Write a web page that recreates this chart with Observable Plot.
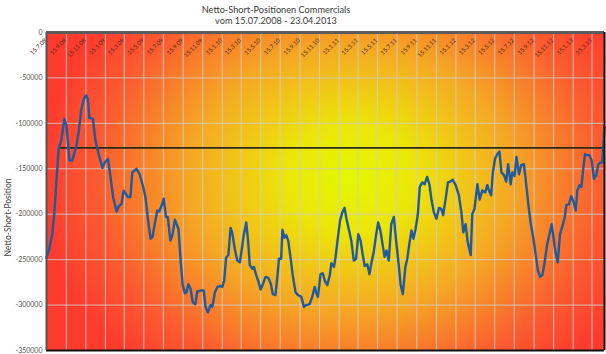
<!DOCTYPE html>
<html><head><meta charset="utf-8">
<script src="https://cdn.jsdelivr.net/npm/d3@7"></script>
<script src="https://cdn.jsdelivr.net/npm/@observablehq/plot@0.6"></script>
<style>
body{margin:0;background:#fff;font-family:Lato,sans-serif;}
#title{width:552px;text-align:center;color:#3a3a3a;font-size:9.2px;line-height:11px;padding-top:4px;height:24px;}
#chart svg{display:block;}
</style></head><body>
<div id="title"><div>Netto-Short-Positionen Commercials</div><div>vom 15.07.2008 - 23.04.2013</div></div>
<div id="chart"></div>
<script>
// days since 15.07.2008 (weekly COT reports)
const days = [0,10,18,25,31,38,46,56,62,72,80,94,101,108,117,124,129,134,145,153,
163,175,182,192,200,208,219,226,234,241,254,262,268,281,291,302,309,316,325,331,
338,346,352,361,366,373,379,387,394,401,412,419,425,432,437,443,450,457,465,471,
481,491,497,504,512,518,526,534,543,549,555,561,568,575,580,588,596,604,611,616,
624,630,635,643,648,655,661,669,676,684,693,701,707,715,722,726,733,737,743,749,
755,762,769,778,786,796,804,811,822,830,838,843,848,856,863,869,877,885,890,898,
903,909,917,924,931,937,944,952,960,967,974,981,988,994,1002,1009,1014,1022,1030,1036,
1043,1051,1056,1062,1069,1077,1085,1092,1100,1106,1113,1121,1127,1134,1140,1146,1153,1160,1166,1174,
1181,1189,1196,1203,1210,1218,1226,1233,1239,1246,1254,1262,1269,1278,1288,1296,1302,1309,1316,1325,
1330,1337,1346,1353,1361,1370,1377,1382,1389,1394,1401,1408,1415,1421,1429,1436,1442,1450,1455,1462,
1468,1476,1483,1491,1496,1505,1512,1520,1528,1535,1542,1549,1556,1564,1571,1578,1585,1590,1597,1604,
1611,1619,1624,1632,1639,1647,1653,1658,1665,1671,1675,1682,1689,1696,1703,1710,1717,1724,1731,1736,
1743];
// net short position (contracts)
const values = [-248000,-236000,-222000,-196000,-163000,-128000,-119000,-95000,-102000,-141000,-141000,-124000,-108000,-86000,-73000,-69000,-73000,-94000,-95000,-119000,
-134000,-149000,-143000,-139000,-159000,-181000,-197000,-191000,-189000,-174000,-181000,-181000,-154000,-150000,-156000,-170000,-181000,-203000,-227000,-225000,
-211000,-196000,-197000,-189000,-183000,-203000,-203000,-229000,-222000,-206000,-216000,-251000,-277000,-287000,-286000,-277000,-282000,-297000,-299000,-285000,
-284000,-284000,-302000,-308000,-300000,-302000,-286000,-280000,-279000,-280000,-273000,-248000,-245000,-215000,-220000,-238000,-251000,-253000,-236000,-223000,
-209000,-231000,-256000,-260000,-258000,-267000,-273000,-283000,-277000,-269000,-270000,-277000,-288000,-289000,-266000,-249000,-249000,-217000,-226000,-223000,
-229000,-247000,-267000,-286000,-289000,-291000,-302000,-300000,-299000,-291000,-280000,-287000,-291000,-266000,-265000,-273000,-278000,-267000,-254000,-258000,
-247000,-229000,-207000,-198000,-193000,-205000,-216000,-229000,-251000,-249000,-222000,-229000,-245000,-257000,-255000,-266000,-255000,-242000,-222000,-209000,
-218000,-236000,-247000,-240000,-251000,-211000,-203000,-229000,-255000,-277000,-288000,-258000,-249000,-231000,-218000,-227000,-216000,-200000,-170000,-165000,
-167000,-159000,-167000,-185000,-198000,-205000,-193000,-194000,-201000,-185000,-165000,-164000,-162000,-168000,-179000,-198000,-220000,-211000,-231000,-245000,
-200000,-194000,-167000,-184000,-174000,-176000,-168000,-174000,-179000,-155000,-139000,-134000,-131000,-154000,-157000,-164000,-145000,-167000,-154000,-158000,
-137000,-156000,-146000,-145000,-159000,-189000,-209000,-225000,-244000,-262000,-269000,-267000,-253000,-233000,-222000,-211000,-229000,-242000,-253000,-222000,
-214000,-203000,-190000,-189000,-180000,-187000,-196000,-174000,-168000,-170000,-155000,-134000,-135000,-135000,-141000,-161000,-157000,-145000,-143000,-143000,
-104000];
const tickLabels = ["15.7.08","15.9.08","15.11.08","15.1.09","15.3.09","15.5.09","15.7.09","15.9.09","15.11.09",
"15.1.10","15.3.10","15.5.10","15.7.10","15.9.10","15.11.10","15.1.11","15.3.11","15.5.11","15.7.11","15.9.11","15.11.11",
"15.1.12","15.3.12","15.5.12","15.7.12","15.9.12","15.11.12","15.1.13","15.3.13"];
const yTicks = [0,-50000,-100000,-150000,-200000,-250000,-300000,-350000];
const levelValue = -127000;
const levelStartDay = 38;
const startDate = new Date(Date.UTC(2008,6,15));
const endDate = new Date(Date.UTC(2013,3,23));

const dayMs = 864e5;
const data = days.map((d,i)=>({date:new Date(+startDate + d*dayMs), value:values[i]}));
const parse = d3.utcParse("%d.%m.%y");
const ticks = tickLabels.map(s=>({date:parse(s), label:s}));

const chart = Plot.plot({
  width:606, height:326, marginLeft:46, marginRight:2, marginTop:4, marginBottom:4,
  style:{fontFamily:"Lato, sans-serif", fontSize:"7px", color:"#444", background:"transparent", overflow:"visible"},
  x:{type:"utc", domain:[startDate,endDate], axis:null},
  y:{domain:[-350000,0], axis:null},
  marks:[
    Plot.frame({fill:"url(#bg)", stroke:null}),
    Plot.gridX(ticks.map(t=>t.date),{stroke:"#cfcfc8", strokeOpacity:0.85, strokeWidth:1}),
    Plot.gridY(yTicks,{stroke:"#cfcfc8", strokeOpacity:0.85, strokeWidth:1}),
    Plot.axisY(yTicks,{tickSize:0, tickPadding:4, tickFormat:d=>String(d), label:null, fill:"#555"}),
    Plot.text(["Netto-Short-Position"],{frameAnchor:"left", textAnchor:"middle", rotate:-90, dx:-38, dy:26, fontSize:8.5, fill:"#444"}),
    Plot.text(ticks,{x:"date", y:()=>0, text:"label", rotate:-45, textAnchor:"end", dx:-1, dy:7, fontSize:6, fill:"#4a2410"}),
    Plot.ruleY([levelValue],{x1:new Date(+startDate + levelStartDay*dayMs), x2:endDate, stroke:"#2a2a1a", strokeWidth:1.6}),
    Plot.line(data,{x:"date", y:"value", stroke:"#1f5a9c", strokeWidth:2.4}),
    Plot.ruleY([0],{stroke:"#5c5c5c", strokeWidth:3}),
    Plot.ruleY([-350000],{stroke:"#111", strokeWidth:2}),
    Plot.ruleX([startDate],{stroke:"#555", strokeWidth:2}),
    Plot.ruleX([endDate],{stroke:"#111", strokeWidth:2})
  ]
});
d3.select(chart).insert("defs",":first-child").html(
 '<radialGradient id="bg" gradientUnits="userSpaceOnUse" cx="350" cy="150" r="310" gradientTransform="translate(350 150) scale(1 0.82) translate(-350 -150)">'+
 '<stop offset="0" stop-color="#e4f800"/><stop offset="0.22" stop-color="#ece40a"/><stop offset="0.52" stop-color="#f5a824"/><stop offset="0.82" stop-color="#fc5a30"/><stop offset="1" stop-color="#ff3b2e"/></radialGradient>');
document.getElementById("chart").appendChild(chart);
</script>
</body></html>
